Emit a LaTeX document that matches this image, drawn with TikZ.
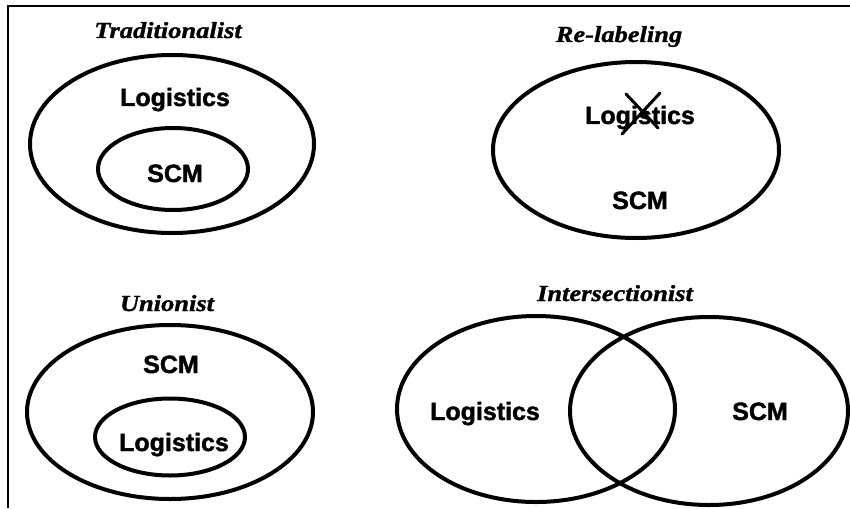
\documentclass[tikz,border=0pt]{standalone}
\usepackage{fontspec}
\usetikzlibrary{shapes.geometric}
\newfontfamily\labfont[FakeBold=1.6]{Liberation Sans}
\newfontfamily\titfont[FakeStretch=1.15,FakeBold=1.2]{Liberation Serif}
\begin{document}
\begin{tikzpicture}[x=1pt,y=-1pt,
  oval/.style={draw, ellipse, line width=4pt, inner sep=0pt},
  lab/.style={font=\labfont\bfseries\fontsize{25}{25}\selectfont, inner sep=0pt, text height=18pt, text depth=0pt},
  ttl/.style={font=\titfont\bfseries\itshape\fontsize{23}{23}\selectfont, inner sep=0pt, text height=14pt, text depth=0pt},
  crossline/.style={line width=3pt, line cap=round}]
\useasboundingbox (0,0) rectangle (850,508);
\draw[line width=2pt] (8,508) -- (8,6.5) -- (850,6.5);

% Traditionalist
\node[ttl] (tT) at (168,31) {Traditionalist};
\node[oval, minimum width=284pt, minimum height=178pt] (tOut) at (172,144) {};
\node[oval, minimum width=150pt, minimum height=82pt] (tIn) at (173,169) {};
\node[lab] (tLog) at (175,97) {Logistics};
\node[lab] (tSCM) at (175,173) {SCM};

% Re-labeling
\node[ttl] (rT) at (619,35) {Re-labeling};
\node[oval, minimum width=286pt, minimum height=176pt] (rOut) at (636,150) {};
\node[lab] (rLog) at (640,115) {Logistics};
\node[lab] (rSCM) at (640,200) {SCM};
\coordinate (x1a) at (626,94);
\coordinate (x1b) at (658,128);
\coordinate (x2a) at (660,93);
\coordinate (x2b) at (622,134);
\draw[crossline] (x1a) -- (x1b);
\draw[crossline] (x2a) -- (x2b);

% Unionist
\node[ttl] (uT) at (167,304) {Unionist};
\node[oval, minimum width=286pt, minimum height=174pt] (uOut) at (170,412) {};
\node[oval, minimum width=150pt, minimum height=77pt] (uIn) at (170,437) {};
\node[lab] (uSCM) at (171,364) {SCM};
\node[lab] (uLog) at (174,442) {Logistics};

% Intersectionist
\node[ttl] (iT) at (615,294) {Intersectionist};
\node[oval, minimum width=278pt, minimum height=186pt] (iL) at (536,409) {};
\node[oval, minimum width=278pt, minimum height=188pt] (iR) at (709,411) {};
\node[lab] (iLog) at (485,411) {Logistics};
\node[lab] (iSCM) at (760,411) {SCM};
\end{tikzpicture}
\end{document}
